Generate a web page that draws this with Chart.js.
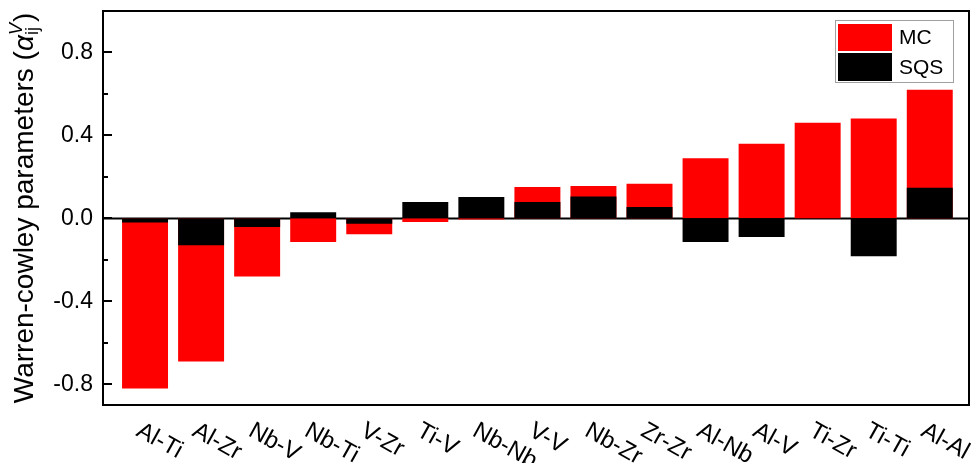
<!DOCTYPE html>
<html>
<head>
<meta charset="utf-8">
<script src="https://cdn.jsdelivr.net/npm/chart.js@4.4.1/dist/chart.umd.min.js"></script>
<style>
  html, body { margin: 0; padding: 0; background: #fff; }
  canvas { display: block; }
</style>
</head>
<body>
<canvas id="c" width="971" height="463"></canvas>
<script>
// ---- data ----
const categories = ['Al-Ti','Al-Zr','Nb-V','Nb-Ti','V-Zr','Ti-V','Nb-Nb','V-V','Nb-Zr','Zr-Zr','Al-Nb','Al-V','Ti-Zr','Ti-Ti','Al-Al'];
const mcValues  = [-0.82, -0.69, -0.28, -0.114, -0.077, -0.018, -0.005, 0.151, 0.156, 0.167, 0.29, 0.36, 0.461, 0.482, 0.62];
const sqsValues = [-0.02, -0.13, -0.042, 0.03, -0.026, 0.079, 0.103, 0.079, 0.106, 0.055, -0.114, -0.09, 0.0, -0.183, 0.148];
const yMajorTicks = [-0.8, -0.4, 0.0, 0.4, 0.8];
const yMinorTicks = [-0.6, -0.2, 0.2, 0.6];
const seriesNames = ['MC', 'SQS'];
const seriesColors = ['#ff0000', '#000000'];

const FONT = "'Liberation Sans', Arial, sans-serif";

const decorPlugin = {
  id: 'decor',
  beforeDatasetsDraw(chart) {
    const {ctx, chartArea: a, scales: {y}} = chart;
    const y0 = Math.round(y.getPixelForValue(0)) + 0.5;
    ctx.save();
    ctx.strokeStyle = '#000';
    ctx.lineWidth = 1.8;
    ctx.beginPath();
    ctx.moveTo(a.left, y0);
    ctx.lineTo(a.right, y0);
    ctx.stroke();
    ctx.restore();
  },
  afterDraw(chart) {
    const {ctx, chartArea: a, scales: {x, y}} = chart;
    ctx.save();
    // frame
    ctx.strokeStyle = '#000';
    ctx.lineWidth = 2;
    ctx.strokeRect(a.left, a.top, a.right - a.left, a.bottom - a.top);
    // inward ticks on y axis
    ctx.lineWidth = 2;
    ctx.beginPath();
    yMajorTicks.forEach(v => {
      const py = Math.round(y.getPixelForValue(v));
      ctx.moveTo(a.left, py); ctx.lineTo(a.left + 9, py);
    });
    yMinorTicks.forEach(v => {
      const py = Math.round(y.getPixelForValue(v));
      ctx.moveTo(a.left, py); ctx.lineTo(a.left + 5, py);
    });
    ctx.stroke();

    // rotated category labels (clockwise)
    ctx.fillStyle = '#000';
    ctx.font = '24px ' + FONT;
    ctx.textAlign = 'left';
    ctx.textBaseline = 'alphabetic';
    categories.forEach((lab, i) => {
      const px = x.getPixelForValue(i);
      ctx.save();
      ctx.translate(px - 10, 435);
      ctx.rotate(29 * Math.PI / 180);
      ctx.fillText(lab, 0, 0);
      ctx.restore();
    });

    // legend box
    ctx.strokeStyle = '#a0a0a0';
    ctx.lineWidth = 1;
    ctx.strokeRect(835.5, 20.5, 118, 62);
    const ds = chart.data.datasets;
    const rows = [[24, 27], [53, 28]];
    ds.forEach((d, i) => {
      ctx.fillStyle = d.backgroundColor;
      ctx.fillRect(838, rows[i][0], 54, rows[i][1]);
      ctx.fillStyle = '#000';
      ctx.font = '21px ' + FONT;
      ctx.textBaseline = 'middle';
      ctx.fillText(d.label, 899, rows[i][0] + rows[i][1] / 2 + 1);
    });

    // y axis title with alpha, super/subscripts
    const cy = (a.top + a.bottom) / 2;
    ctx.translate(33, cy);
    ctx.rotate(-Math.PI / 2);
    ctx.textBaseline = 'alphabetic';
    const mainFont = '28px ' + FONT;
    const alphaFont = 'italic 28px ' + FONT;
    const smallFont = '18px ' + FONT;
    const smallItal = 'italic 18px ' + FONT;
    const t1 = 'Warren-cowley parameters (';
    ctx.font = mainFont; const w1 = ctx.measureText(t1).width; const wp = ctx.measureText(')').width;
    ctx.font = alphaFont; const wa = ctx.measureText('α').width;
    ctx.font = smallItal; const wv = ctx.measureText('V').width;
    ctx.font = smallFont; const wij = ctx.measureText('ij').width;
    const ws = Math.max(wv, wij);
    const total = w1 + wa + ws + 1 + wp;
    let sx = -total / 2;
    ctx.fillStyle = '#000';
    ctx.font = mainFont; ctx.fillText(t1, sx, 0); sx += w1;
    ctx.font = alphaFont; ctx.fillText('α', sx, 0); sx += wa;
    ctx.font = smallItal; ctx.fillText('V', sx, -11);
    ctx.font = smallFont; ctx.fillText('ij', sx, 5);
    sx += ws + 1;
    ctx.font = mainFont; ctx.fillText(')', sx, 0);
    ctx.restore();
  }
};

new Chart(document.getElementById('c'), {
  type: 'bar',
  data: {
    datasets: [
      {
        label: seriesNames[0],
        data: mcValues.map((v, i) => ({x: i, y: v})),
        backgroundColor: seriesColors[0],
        borderWidth: 0,
        grouped: false,
        order: 1
      },
      {
        label: seriesNames[1],
        data: sqsValues.map((v, i) => ({x: i, y: v})),
        backgroundColor: seriesColors[1],
        borderWidth: 0,
        grouped: false,
        order: 0
      }
    ]
  },
  options: {
    responsive: false,
    animation: false,
    devicePixelRatio: 1,
    barPercentage: 0.82,
    categoryPercentage: 1.0,
    layout: { padding: { left: 0, right: 2, top: 11, bottom: 0 } },
    plugins: { legend: { display: false }, tooltip: { enabled: false } },
    scales: {
      x: {
        type: 'linear',
        min: -0.75,
        max: 14.7,
        offset: false,
        grid: { display: false, drawTicks: false },
        border: { display: false },
        ticks: { display: false },
        afterFit(s) { s.height = 58; s.paddingLeft = 0; s.paddingRight = 0; }
      },
      y: {
        min: -0.9,
        max: 1.0,
        grid: { display: false, drawTicks: false, tickLength: 0 },
        border: { display: false },
        ticks: {
          color: '#000',
          padding: 10,
          font: { family: FONT, size: 23 },
          callback: v => Number(v).toFixed(1)
        },
        afterBuildTicks(s) { s.ticks = yMajorTicks.map(v => ({value: v})); },
        afterFit(s) { s.width = 103; s.paddingTop = 0; s.paddingBottom = 0; }
      }
    }
  },
  plugins: [decorPlugin]
});
</script>
</body>
</html>
